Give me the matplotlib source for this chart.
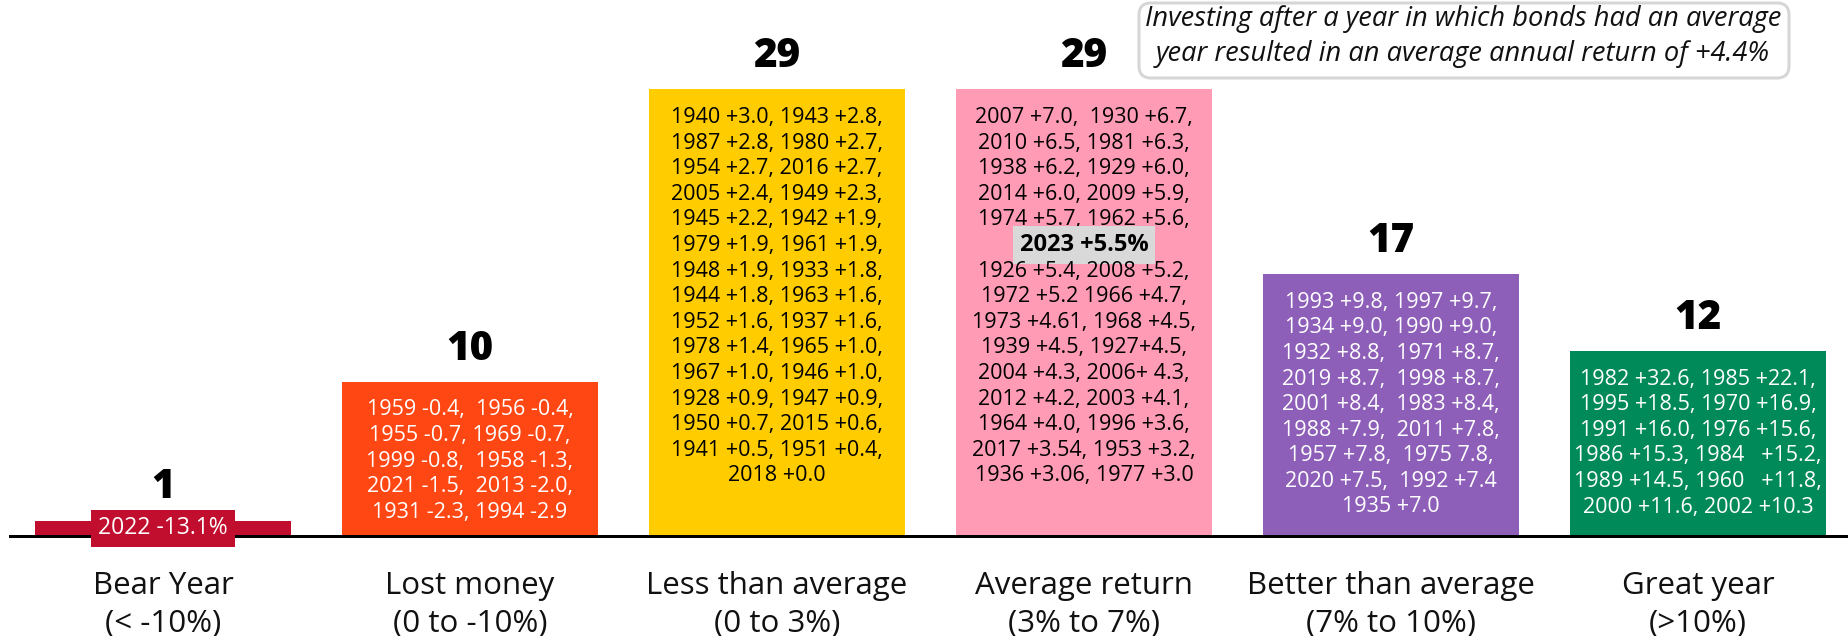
import matplotlib
matplotlib.use("Agg")
import matplotlib.pyplot as plt
from matplotlib.patches import FancyBboxPatch
from matplotlib.transforms import IdentityTransform
import numpy as np

# ---------------- data ----------------
categories = ["Bear Year\n(< -10%)", "Lost money\n(0 to -10%)",
              "Less than average\n(0 to 3%)", "Average return\n(3% to 7%)",
              "Better than average\n(7% to 10%)", "Great year\n(>10%)"]
counts = [1, 10, 29, 29, 17, 12]
bar_colors = ["#C10E2E", "#FF4713", "#FFCC00", "#FF9BB4", "#8E5FB8", "#008A5A"]
text_colors = ["white", "white", "black", "black", "white", "white"]

bear_years = ["2022 -13.1%"]
lost_years = ["1959 -0.4,  1956 -0.4,", "1955 -0.7, 1969 -0.7,",
              "1999 -0.8,  1958 -1.3,", "2021 -1.5,  2013 -2.0,",
              "1931 -2.3, 1994 -2.9"]
less_years = ["1940 +3.0, 1943 +2.8,", "1987 +2.8, 1980 +2.7,",
              "1954 +2.7, 2016 +2.7,", "2005 +2.4, 1949 +2.3,",
              "1945 +2.2, 1942 +1.9,", "1979 +1.9, 1961 +1.9,",
              "1948 +1.9, 1933 +1.8,", "1944 +1.8, 1963 +1.6,",
              "1952 +1.6, 1937 +1.6,", "1978 +1.4, 1965 +1.0,",
              "1967 +1.0, 1946 +1.0,", "1928 +0.9, 1947 +0.9,",
              "1950 +0.7, 2015 +0.6,", "1941 +0.5, 1951 +0.4,",
              "2018 +0.0"]
avg_years = ["2007 +7.0,  1930 +6.7,", "2010 +6.5, 1981 +6.3,",
             "1938 +6.2, 1929 +6.0,", "2014 +6.0, 2009 +5.9,",
             "1974 +5.7, 1962 +5.6,", "2023 +5.5%",
             "1926 +5.4, 2008 +5.2,", "1972 +5.2 1966 +4.7,",
             "1973 +4.61, 1968 +4.5,", "1939 +4.5, 1927+4.5,",
             "2004 +4.3, 2006+ 4.3,", "2012 +4.2, 2003 +4.1,",
             "1964 +4.0, 1996 +3.6,", "2017 +3.54, 1953 +3.2,",
             "1936 +3.06, 1977 +3.0"]
better_years = ["1993 +9.8, 1997 +9.7,", "1934 +9.0, 1990 +9.0,",
                "1932 +8.8,  1971 +8.7,", "2019 +8.7,  1998 +8.7,",
                "2001 +8.4,  1983 +8.4,", "1988 +7.9,  2011 +7.8,",
                "1957 +7.8,  1975 7.8,", "2020 +7.5,  1992 +7.4",
                "1935 +7.0"]
great_years = ["1982 +32.6, 1985 +22.1,", "1995 +18.5, 1970 +16.9,",
               "1991 +16.0, 1976 +15.6,", "1986 +15.3, 1984   +15.2,",
               "1989 +14.5, 1960   +11.8,", "2000 +11.6, 2002 +10.3"]
year_lists = [bear_years, lost_years, less_years, avg_years, better_years, great_years]
highlight = "2023 +5.5%"
note_lines = ["Investing after a year in which bonds had an average",
              "year resulted in an average annual return of +4.4%"]

# ---------------- layout ----------------
FONT = "Open Sans"
plt.rcParams["font.family"] = [FONT, "DejaVu Sans"]
W, H, DPI = 1848, 636, 100
PT = 72.0 / DPI            # points per pixel
PX_PER_UNIT = 15.4
STEP = 307.0               # px between bar centres
FIRST = 163.0              # px of first bar centre
BASE = 536.0               # px from top of baseline

fig = plt.figure(figsize=(W / DPI, H / DPI), dpi=DPI)
ax = fig.add_axes([0, 0, 1, 1])
ax.set_xlim(-FIRST / STEP, (W - FIRST) / STEP)
ax.set_ylim(-(H - BASE) / PX_PER_UNIT, BASE / PX_PER_UNIT)
ax.axis("off")

x = np.arange(len(counts))
ax.bar(x, counts, width=256 / STEP, color=bar_colors, zorder=2)
ax.axhline(0, xmin=10 / W, xmax=1, color="black", lw=3 * PT, zorder=3)

LINE_H = 25.6
TOP_PAD = 28.0
BOX_FS = 15.5

for i, (xi, h, lines, tc) in enumerate(zip(x, counts, year_lists, text_colors)):
    # count label above bar
    ax.annotate(str(h), xy=(xi, h), xytext=(0, 33 * PT), textcoords="offset points",
                ha="center", va="center", fontsize=29, fontweight="heavy",
                color="black", zorder=5)
    if i == 0:
        ax.annotate(lines[0], xy=(xi, 0), xytext=(0, 7.5 * PT), textcoords="offset points",
                    ha="center", va="center", fontsize=16.5, color=tc, zorder=6,
                    bbox=dict(boxstyle="square,pad=0.3", fc=bar_colors[0], ec="none"))
    else:
        for k, line in enumerate(lines):
            off = -(TOP_PAD + k * LINE_H) * PT
            if line == highlight:
                ax.annotate(line, xy=(xi, h), xytext=(0, off), textcoords="offset points",
                            ha="center", va="center", fontsize=17, fontweight="bold",
                            color="black", zorder=6,
                            bbox=dict(boxstyle="square,pad=0.3", fc="#D9D9D9", ec="none"))
            else:
                ax.annotate(line, xy=(xi, h), xytext=(0, off), textcoords="offset points",
                            ha="center", va="center", fontsize=BOX_FS, color=tc, zorder=6)
    # category label below axis
    for k, cl in enumerate(categories[i].split("\n")):
        ax.annotate(cl, xy=(xi, 0), xytext=(0, -(50 + 38 * k) * PT),
                    textcoords="offset points", ha="center", va="center",
                    fontsize=22.5, color="#111111", zorder=5)

# note box top right
box = FancyBboxPatch((1139, H - 78), 650, 75, boxstyle="round,pad=0,rounding_size=12",
                     transform=IdentityTransform(), fc="white", ec="#D6D6D6",
                     lw=3 * PT, zorder=10)
fig.add_artist(box)
renderer = fig.canvas.get_renderer()
target_w = 636.0
cx = 1463.0
for k, (ln, yy) in enumerate(zip(note_lines, [19.0, 54.0])):
    t = fig.text(cx / W, 1 - yy / H, ln, ha="center", va="center", fontsize=20,
                 fontstyle="italic", color="#111111", zorder=11)
    if k == 0:
        wpx = t.get_window_extent(renderer).width
        note_fs = 20 * target_w / wpx
    t.set_fontsize(note_fs)

fig.savefig("out.png", dpi=DPI)
